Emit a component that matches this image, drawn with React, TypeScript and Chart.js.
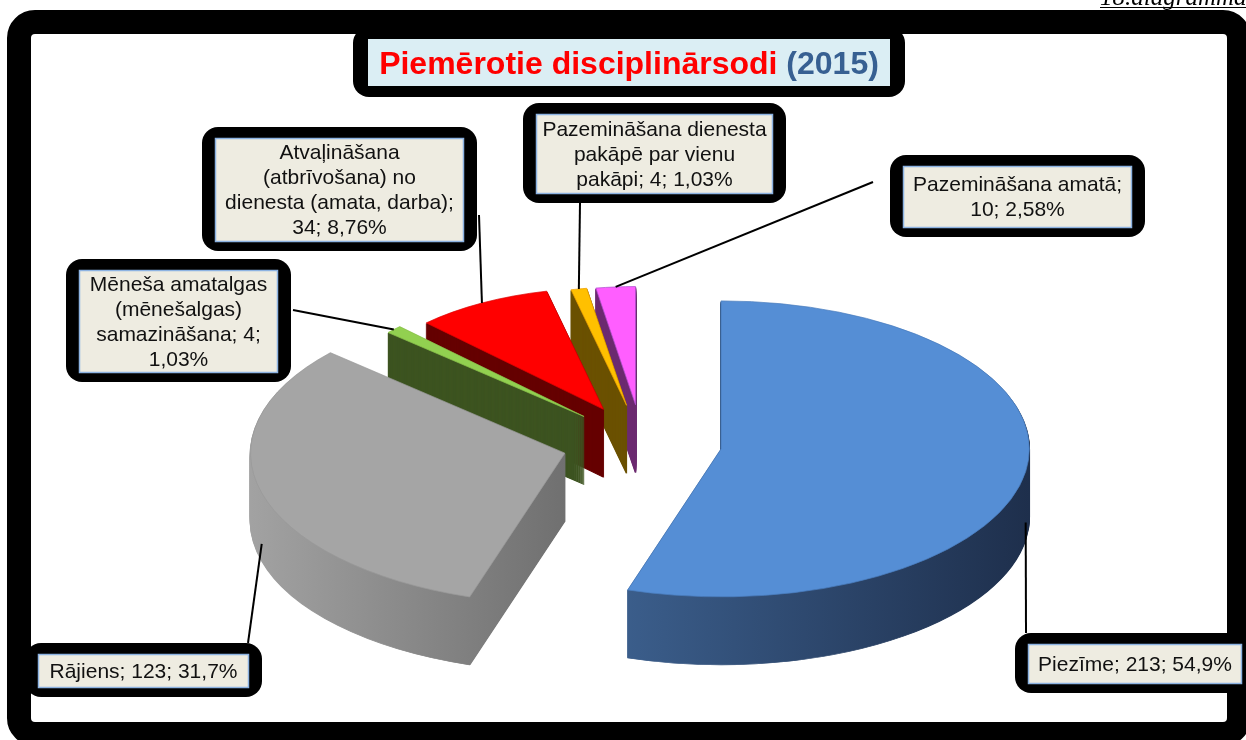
import React, { useEffect, useRef } from "react";
import { Chart, registerables } from "chart.js";

Chart.register(...registerables);

// ---------------- data ----------------
const nameLines: string[][] = [
  ["Piezīme"],
  ["Rājiens"],
  ["Mēneša amatalgas", "(mēnešalgas)", "samazināšana"],
  ["Atvaļināšana", "(atbrīvošana) no", "dienesta (amata, darba)"],
  ["Pazemināšana dienesta", "pakāpē par vienu", "pakāpi"],
  ["Pazemināšana amatā"],
];
const categories = nameLines.map((l) => l.join(" "));
const counts = [213, 123, 4, 34, 4, 10];
const titleMain = "Piemērotie disciplinārsodi";
const titleYear = "(2015)";
const figureTag = "18.diagramma";

// ---------------- styles ----------------
const topColors = ["#558ED5", "#A5A5A5", "#92D050", "#FF0000", "#FFC000", "#FF5EFF"];
const edgeColors = ["#4A7EBF", "#999999", "#8AC24A", "#E00000", "#F0A000", "#B050D0"];
const sideColors: string[][] = [
  ["#4A76AC", "#1E2F4C"],
  ["#A2A2A2", "#707070", "#505050"],
  ["#3D5421"],
  ["#660000"],
  ["#6B5100"],
  ["#6C2B70"],
];
// 0: all inline, 1: pct on new line, 2: count and pct on new line
const valueBreak = [0, 0, 1, 2, 0, 2];
const boxes = [
  { x: 1015, y: 633, w: 240, h: 60, lx: 1026, ly: 633 },
  { x: 25, y: 643, w: 237, h: 54, lx: 248, ly: 643 },
  { x: 66, y: 259, w: 225, h: 123, lx: 293, ly: 310 },
  { x: 202, y: 127, w: 275, h: 124, lx: 479, ly: 215 },
  { x: 523, y: 103, w: 263, h: 100, lx: 580, ly: 203 },
  { x: 890, y: 155, w: 255, h: 82, lx: 873, ly: 182 },
];

const CX = 642;
const CY = 443;
const K = 0.48;
const DEPTH = 68;
const EXPLODE = 80;
const RADIUS = 300;
const PERSPECTIVE = 0.18;
const FONT = "'Liberation Sans', Arial, sans-serif";

const total = counts.reduce((a, b) => a + b, 0);
const pct = counts.map((v) => (v / total * 100).toPrecision(3).replace(".", ",") + "%");

function labelLines(i: number): string[] {
  const lines = nameLines[i].slice();
  const last = lines.length - 1;
  if (valueBreak[i] === 0) lines[last] += `; ${counts[i]}; ${pct[i]}`;
  else if (valueBreak[i] === 1) { lines[last] += `; ${counts[i]};`; lines.push(pct[i]); }
  else { lines[last] += ";"; lines.push(`${counts[i]}; ${pct[i]}`); }
  return lines;
}

function roundRect(ctx: CanvasRenderingContext2D, x: number, y: number, w: number, h: number, r: number) {
  ctx.beginPath();
  ctx.moveTo(x + r, y);
  ctx.arcTo(x + w, y, x + w, y + h, r);
  ctx.arcTo(x + w, y + h, x, y + h, r);
  ctx.arcTo(x, y + h, x, y, r);
  ctx.arcTo(x, y, x + w, y, r);
  ctx.closePath();
}

function center(chart: any) {
  const a = chart.chartArea;
  return { ax: (a.left + a.right) / 2, ay: (a.top + a.bottom) / 2 };
}

function sideFill(ctx: CanvasRenderingContext2D, i: number, arc: any) {
  const c = sideColors[i];
  if (c.length === 1) return c[0];
  const r = arc.outerRadius;
  const g = ctx.createLinearGradient(arc.x - r, 0, arc.x + r, 0);
  c.forEach((col, j) => g.addColorStop(j / (c.length - 1), col));
  return g;
}

const pie3d = {
  id: "pie3d",
  afterDatasetsUpdate(chart: any) {
    const { ax, ay } = center(chart);
    chart.getDatasetMeta(0).data.forEach((arc: any) => {
      const mid = (arc.startAngle + arc.endAngle) / 2;
      arc.x = ax + Math.cos(mid) * EXPLODE;
      arc.y = ay + Math.sin(mid) * EXPLODE;
      arc.outerRadius = RADIUS * (1 + PERSPECTIVE * Math.sin(mid));
    });
  },
  beforeDatasetsDraw(chart: any) {
    const ctx: CanvasRenderingContext2D = chart.ctx;
    const { ax, ay } = center(chart);
    const arcs = chart.getDatasetMeta(0).data;
    const order = arcs.map((_: any, i: number) => i).sort((i: number, j: number) => {
      const mi = (arcs[i].startAngle + arcs[i].endAngle) / 2;
      const mj = (arcs[j].startAngle + arcs[j].endAngle) / 2;
      return Math.sin(mi) - Math.sin(mj);
    });
    for (const i of order) {
      const arc = arcs[i];
      const fake = Object.create(arc);
      const fill = sideFill(ctx, i, arc);
      fake.options = { ...arc.options, backgroundColor: fill, borderColor: fill, borderWidth: 1.5 };
      for (let d = DEPTH; d >= 1; d--) {
        ctx.save();
        ctx.translate(CX, CY + d);
        ctx.scale(1, K);
        ctx.translate(-ax, -ay);
        fake.draw(ctx);
        ctx.restore();
      }
    }
    ctx.save();
    ctx.translate(CX, CY);
    ctx.scale(1, K);
    ctx.translate(-ax, -ay);
  },
  afterDatasetsDraw(chart: any) {
    chart.ctx.restore();
  },
};

const decorations = {
  id: "decorations",
  afterDraw(chart: any) {
    const ctx: CanvasRenderingContext2D = chart.ctx;
    const { ax, ay } = center(chart);
    ctx.save();
    // outer frame
    ctx.strokeStyle = "#000";
    ctx.lineWidth = 24;
    roundRect(ctx, 19, 22, 1220, 712, 16);
    ctx.stroke();

    // figure tag
    ctx.fillStyle = "#000";
    ctx.font = `italic 25px 'Liberation Serif', serif`;
    ctx.textAlign = "left";
    ctx.textBaseline = "alphabetic";
    ctx.fillText(figureTag, 1100, 5);
    ctx.fillRect(1100, 7, 146, 1);

    // title
    ctx.fillStyle = "#000";
    roundRect(ctx, 353, 27, 552, 70, 16);
    ctx.fill();
    ctx.fillStyle = "#DBEEF4";
    ctx.fillRect(368, 39, 522, 47);
    ctx.font = `bold 32px ${FONT}`;
    const w1 = ctx.measureText(titleMain + " ").width;
    const w2 = ctx.measureText(titleYear).width;
    const tx = 629 - (w1 + w2) / 2;
    ctx.fillStyle = "#FF0000";
    ctx.fillText(titleMain + " ", tx, 74);
    ctx.fillStyle = "#376092";
    ctx.fillText(titleYear, tx + w1, 74);

    // leader lines
    const arcs = chart.getDatasetMeta(0).data;
    ctx.strokeStyle = "#000";
    ctx.lineWidth = 2;
    arcs.forEach((arc: any, i: number) => {
      const mid = (arc.startAngle + arc.endAngle) / 2;
      const r = arc.outerRadius;
      const px = arc.x + Math.cos(mid) * r;
      const py = arc.y + Math.sin(mid) * r;
      const sx = CX + (px - ax);
      const sy = CY + K * (py - ay) + (Math.sin(mid) > 0 ? DEPTH * 0.75 : 0);
      const b = boxes[i];
      ctx.beginPath();
      ctx.moveTo(b.lx, b.ly);
      ctx.lineTo(sx, sy);
      ctx.stroke();
    });

    // label boxes
    ctx.font = `21px ${FONT}`;
    ctx.textAlign = "center";
    ctx.textBaseline = "middle";
    boxes.forEach((b, i) => {
      ctx.fillStyle = "#000";
      roundRect(ctx, b.x, b.y, b.w, b.h, 16);
      ctx.fill();
      const ix = b.x + 13, iy = b.y + 11, iw = b.w - 26, ih = b.h - 20;
      ctx.fillStyle = "#EEECE1";
      ctx.fillRect(ix, iy, iw, ih);
      ctx.strokeStyle = "#8DB3E2";
      ctx.lineWidth = 1.5;
      ctx.strokeRect(ix + 0.5, iy + 0.5, iw - 1, ih - 1);
      const lines = labelLines(i);
      const lh = 25;
      const cy = iy + ih / 2 - ((lines.length - 1) * lh) / 2 + 1;
      ctx.fillStyle = "#111";
      lines.forEach((t, j) => ctx.fillText(t, ix + iw / 2, cy + j * lh));
    });
    ctx.restore();
  },
};

export default function App() {
  const ref = useRef<HTMLCanvasElement>(null);
  useEffect(() => {
    document.body.style.margin = "0";
    const canvas = ref.current!;
    const chart = new Chart(canvas, {
      type: "pie",
      data: {
        labels: categories,
        datasets: [
          {
            data: counts,
            backgroundColor: topColors,
            borderColor: edgeColors,
            borderWidth: 1,
            clip: false,
          } as any,
        ],
      },
      options: {
        responsive: false,
        animation: false,
        devicePixelRatio: 1,
        events: [],
        layout: { padding: 0 },
        radius: RADIUS,
        plugins: { legend: { display: false }, tooltip: { enabled: false }, title: { display: false } },
      } as any,
      plugins: [pie3d, decorations],
    });
    return () => chart.destroy();
  }, []);
  return <canvas ref={ref} width={1246} height={740} style={{ display: "block" }} />;
}
